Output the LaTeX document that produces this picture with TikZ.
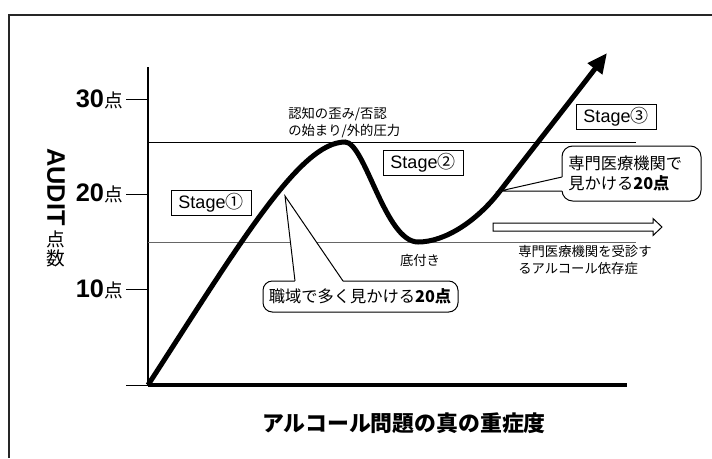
\documentclass[tikz,border=0pt]{standalone}
\usepackage{fontspec}
\setmainfont{Liberation Sans}
\newfontfamily\jp{Noto Sans CJK JP}
\usetikzlibrary{arrows.meta}
\begin{document}
\begin{tikzpicture}[x=0.75pt,y=-0.75pt,
  thinline/.style={line width=0.75pt},
  stagebox/.style={draw,line width=0.75pt,fill=white,minimum width=60pt,minimum height=19pt,inner sep=0pt,font=\fontsize{13.5}{14}\selectfont},
  smalltxt/.style={font=\jp\fontsize{10}{12.75}\selectfont,align=left,inner sep=0pt},
  calltxt/.style={font=\jp\fontsize{12.2}{15}\selectfont,align=left,inner sep=0pt},
  ticklab/.style={anchor=base east,inner sep=0pt,font=\fontsize{19}{19}\selectfont\bfseries},
  curve/.style={line width=3.75pt,-{Triangle[length=15pt,width=13pt]}}]
\useasboundingbox (0,0) rectangle (712,458);
% frame
\draw[line width=1.5pt,black!85] (9,458) -- (9,15) -- (712,15);
% axes
\coordinate (O) at (148,385);
\coordinate (ytop) at (148,67);
\coordinate (xend) at (627,385);
\draw[line width=1.5pt] (O) -- (ytop);
\draw[line width=2.4pt] (O) -- (xend);
\draw[thinline] (126,385) -- (O);
\foreach \y in {99,194,289} \draw[thinline] (126,\y) -- (148,\y);
% horizontal reference lines
\draw[thinline] (148,142) -- (636,142);
\draw[thinline,black!60] (148,242) -- (636,242);
% tick labels
\node[ticklab] (t30) at (123,107) {30{\jp\mdseries\fontsize{14}{14}\selectfont 点}};
\node[ticklab] (t20) at (123,201) {20{\jp\mdseries\fontsize{14}{14}\selectfont 点}};
\node[ticklab] (t10) at (123,297) {10{\jp\mdseries\fontsize{14}{14}\selectfont 点}};
% y label
\node[rotate=-90,anchor=west,inner sep=0pt,font=\fontsize{19}{19}\selectfont\bfseries] (audit) at (56,148) {AUDIT};
\node[inner sep=0pt,font=\jp\fontsize{14}{14}\selectfont] (ten) at (56,239) {点};
\node[inner sep=0pt,font=\jp\fontsize{14}{14}\selectfont] (suu) at (56,258) {数};
% x label
\node[inner sep=0pt,font=\jp\bfseries\fontsize{16.4}{16}\selectfont] (xlab) at (404,423) {アルコール問題の真の重症度};
% curve
\coordinate (peak) at (345,142);
\coordinate (trough) at (418,242);
\coordinate (mid) at (500,191);
\coordinate (tip) at (607,53);
\draw[curve] (O) .. controls (240,243) and (300,142) .. (peak)
  .. controls (365,142) and (385,242) .. (trough)
  .. controls (445,242) and (477,221) .. (mid)
  .. controls (530,152) and (575,95) .. (tip);
% stage boxes
\node[stagebox] (s1) at (211,203) {Stage{\jp ①}};
\node[stagebox] (s2) at (423,163) {Stage{\jp ②}};
\node[stagebox] (s3) at (616,117) {Stage{\jp ③}};
% peak label
\node[smalltxt,anchor=north west] (peaklab) at (288,107) {認知の歪み/否認\\の始まり/外的圧力};
% bottom label
\node[smalltxt] (soko) at (420,260) {底付き};
\node[smalltxt,anchor=north west] (senmon) at (518,245) {専門医療機関を受診す\\るアルコール依存症};
% hollow arrow
\draw[thinline,fill=white] (493,223) -- (653,223) -- (653,218.5) -- (662,227) -- (653,235.5) -- (653,231) -- (493,231) -- cycle;
% callout 1 (right)
\coordinate (c1tip) at (500,191);
\draw[thinline,fill=white,rounded corners=8pt] (562,146) rectangle (701,201);
\fill[white] (562.8,177) -- (c1tip) -- (562.8,191) -- cycle;
\draw[thinline] (562,177) -- (c1tip) -- (562,191);
\node[calltxt,anchor=west] (c1a) at (568,163) {専門医療機関で};
\node[calltxt,anchor=west] (c1b) at (568,183) {見かける{\bfseries 20点}};
% callout 2 (bottom)
\coordinate (c2tip) at (285,196);
\draw[thinline,fill=white,rounded corners=7pt] (263,281) rectangle (458,312);
\fill[white] (295,281.8) -- (c2tip) -- (343,281.8) -- cycle;
\draw[thinline] (295,281) -- (c2tip) -- (343,281);
\node[calltxt] (c2) at (360,296.5) {職域で多く見かける{\bfseries 20点}};
\end{tikzpicture}
\end{document}
